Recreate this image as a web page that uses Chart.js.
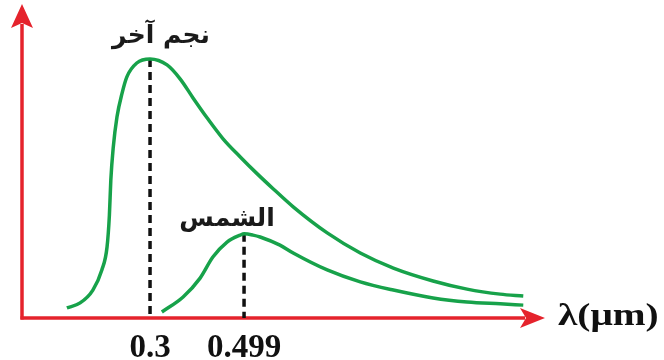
<!DOCTYPE html>
<html>
<head>
<meta charset="utf-8">
<script src="https://cdn.jsdelivr.net/npm/chart.js@4"></script>
<style>
  html, body { margin: 0; padding: 0; background: #ffffff; }
  #wrap { width: 664px; height: 360px; }
</style>
</head>
<body>
<div id="wrap"><canvas id="chart"></canvas></div>
<script>
// ===========================
// Data (wavelength in µm, relative intensity)
// ===========================

const starLambda = [0.124, 0.152, 0.179, 0.198, 0.209, 0.214, 0.217, 0.222, 0.230, 0.241,
  0.251, 0.272, 0.300, 0.336, 0.364, 0.391, 0.421, 0.455, 0.491, 0.527, 0.561, 0.603,
  0.675, 0.745, 0.815, 0.899, 0.971, 1.041, 1.090];
const starIntensity = [0.032, 0.048, 0.089, 0.153, 0.226, 0.328, 0.439, 0.541, 0.640, 0.717,
  0.768, 0.812, 0.825, 0.806, 0.761, 0.701, 0.637, 0.570, 0.513, 0.459, 0.411, 0.354,
  0.271, 0.207, 0.159, 0.118, 0.092, 0.076, 0.070];

const sunLambda = [0.325, 0.370, 0.406, 0.433, 0.463, 0.491, 0.499, 0.518, 0.533, 0.575,
  0.603, 0.675, 0.745, 0.815, 0.899, 0.971, 1.041, 1.090];
const sunIntensity = [0.019, 0.067, 0.127, 0.194, 0.242, 0.264, 0.268, 0.264, 0.258, 0.232,
  0.207, 0.153, 0.115, 0.089, 0.064, 0.051, 0.045, 0.041];

const peakTicks = [0.3, 0.499];
const seriesNames = ["نجم آخر", "الشمس"];
const axisTitle = "λ(μm)";

const green = "#17a24a";
const red = "#e5232c";

function toPoints(xs, ys) {
  return xs.map((x, i) => ({ x: x, y: ys[i] }));
}

// ===========================
// Axes, arrows, peak markers
// ===========================

const decorPlugin = {
  id: "decor",
  beforeDatasetsDraw(chart) {
    const ctx = chart.ctx;
    const area = chart.chartArea;
    const xs = chart.scales.x;
    const ys = chart.scales.y;
    const y0 = ys.getPixelForValue(0);

    ctx.save();
    ctx.strokeStyle = red;
    ctx.fillStyle = red;
    ctx.lineWidth = 3.5;

    // y axis
    ctx.beginPath();
    ctx.moveTo(area.left, y0 + 1.5);
    ctx.lineTo(area.left, area.top + 20);
    ctx.stroke();
    ctx.beginPath();
    ctx.moveTo(area.left, area.top);
    ctx.lineTo(area.left - 11, area.top + 24);
    ctx.lineTo(area.left, area.top + 19);
    ctx.lineTo(area.left + 11, area.top + 24);
    ctx.closePath();
    ctx.fill();

    // x axis
    ctx.beginPath();
    ctx.moveTo(area.left - 1.5, y0);
    ctx.lineTo(area.right - 20, y0);
    ctx.stroke();
    ctx.beginPath();
    ctx.moveTo(area.right, y0);
    ctx.lineTo(area.right - 25, y0 - 10);
    ctx.lineTo(area.right - 19, y0);
    ctx.lineTo(area.right - 25, y0 + 10);
    ctx.closePath();
    ctx.fill();

    // dashed lines at the peaks
    const peaks = [
      Math.max(...starIntensity),
      Math.max(...sunIntensity)
    ];
    ctx.strokeStyle = "#111111";
    ctx.lineWidth = 3.5;
    ctx.setLineDash([8, 5]);
    peakTicks.forEach((lam, i) => {
      const px = xs.getPixelForValue(lam);
      ctx.beginPath();
      ctx.moveTo(px, ys.getPixelForValue(peaks[i]));
      ctx.lineTo(px, y0);
      ctx.stroke();
    });
    ctx.setLineDash([]);

    // labels
    ctx.fillStyle = "#1a1a1a";
    ctx.textAlign = "center";
    ctx.textBaseline = "middle";
    ctx.font = "bold 25px 'DejaVu Sans'";
    const p0x = xs.getPixelForValue(peakTicks[0]);
    const p0y = ys.getPixelForValue(peaks[0]);
    ctx.fillText(seriesNames[0], p0x + 11, p0y - 22);
    const p1x = xs.getPixelForValue(peakTicks[1]);
    const p1y = ys.getPixelForValue(peaks[1]);
    ctx.fillText(seriesNames[1], p1x - 17, p1y - 14);

    // axis title, a little wide like the source lettering
    ctx.fillStyle = "#111111";
    ctx.textAlign = "left";
    ctx.font = "bold 31px 'Liberation Serif'";
    ctx.translate(area.right + 13, y0 - 1);
    ctx.scale(1.27, 1);
    ctx.fillText(axisTitle, 0, 0);
    ctx.restore();
  }
};

// ===========================
// Chart
// ===========================

const ctx = document.getElementById("chart").getContext("2d");

new Chart(ctx, {
  type: "line",
  data: {
    datasets: [
      {
        label: seriesNames[0],
        data: toPoints(starLambda, starIntensity),
        borderColor: green,
        borderWidth: 3.5,
        pointRadius: 0,
        cubicInterpolationMode: "monotone",
        fill: false
      },
      {
        label: seriesNames[1],
        data: toPoints(sunLambda, sunIntensity),
        borderColor: green,
        borderWidth: 3.5,
        pointRadius: 0,
        cubicInterpolationMode: "monotone",
        fill: false
      }
    ]
  },
  options: {
    responsive: true,
    maintainAspectRatio: false,
    animation: false,
    layout: {
      padding: { left: 22, right: 119, top: 4, bottom: 0 }
    },
    plugins: {
      legend: { display: false },
      tooltip: { enabled: false }
    },
    scales: {
      x: {
        type: "linear",
        min: 0.029,
        max: 1.136,
        border: { display: false },
        grid: { display: false, drawTicks: false },
        afterBuildTicks: (scale) => {
          scale.ticks = peakTicks.map((v) => ({ value: v }));
        },
        afterFit: (scale) => {
          scale.height = 42;
        },
        ticks: {
          autoSkip: false,
          maxRotation: 0,
          padding: 11,
          color: "#111111",
          font: { family: "Liberation Serif", size: 33, weight: "bold" },
          callback: (v) => String(v)
        }
      },
      y: {
        display: false,
        min: 0,
        max: 1
      }
    }
  },
  plugins: [decorPlugin]
});
</script>
</body>
</html>
